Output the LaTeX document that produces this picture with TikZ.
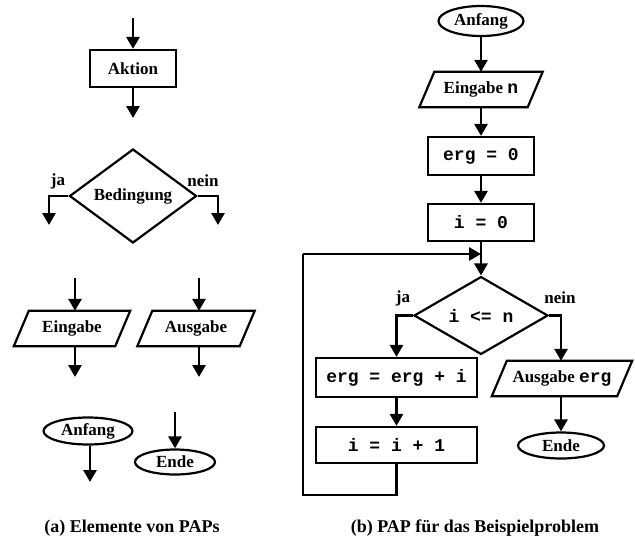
\documentclass[tikz,border=0pt]{standalone}
\usepackage{fontspec}
\setmainfont{Liberation Serif}
\setmonofont{Liberation Mono}
\usetikzlibrary{shapes.geometric,arrows.meta}
\newcommand\ioshape[1]{\draw[shp] ([xshift=-7.5pt]#1.south west) -- ([xshift=7.5pt]#1.north west) -- ([xshift=7.5pt]#1.north east) -- ([xshift=-7.5pt]#1.south east) -- cycle;}
\begin{document}
\begin{tikzpicture}[x=1pt,y=-1pt,
  every node/.style={font=\fontsize{17}{20}\selectfont\bfseries},
  code/.style={font=\fontsize{18}{20}\selectfont\ttfamily\bfseries},
  shp/.style={draw,line width=2.2pt,inner sep=0pt,line join=miter},
  actbox/.style={shp,rectangle,minimum width=#1},
  iobox/.style={inner sep=0pt,rectangle,minimum width=#1,minimum height=35pt},
  termbox/.style={shp,ellipse},
  condbox/.style={shp,diamond},
  arr/.style={line width=2.8pt,-{Triangle[width=13pt,length=12pt]}},
  ln/.style={line width=2.8pt},
  lbl/.style={inner sep=0pt},
  captext/.style={font=\fontsize{18}{20}\selectfont\bfseries}]
\useasboundingbox (0,0) rectangle (635,550);

% ---------- (a) elements ----------
\coordinate (ain) at (133,18);
\node[actbox=86pt,minimum height=37pt] (akt) at (133,68.5) {Aktion};
\coordinate (aout) at (133,118);
\draw[arr] (ain) -- (akt);
\draw[arr] (akt) -- (aout);

\node[condbox,minimum width=127pt,minimum height=90pt] (bed) at (133,196) {Bedingung};
\coordinate (bja) at (49,225);
\coordinate (bnein) at (218,225);
\draw[arr] (bed.west) -| (bja);
\draw[arr] (bed.east) -| (bnein);
\node[lbl] (lja1) at (58,181) {ja};
\node[lbl] (lnein1) at (203,181) {nein};

\node[iobox=101pt] (ein) at (72,328.5) {Eingabe};
\ioshape{ein}
\coordinate (einin) at (75,278);
\coordinate (einout) at (75,377);
\draw[arr] (einin) -- (einin |- ein.north);
\draw[arr] (einout |- ein.south) -- (einout);

\node[iobox=102pt] (aus) at (196,328.5) {Ausgabe};
\ioshape{aus}
\coordinate (ausin) at (199,278);
\coordinate (ausout) at (199,377);
\draw[arr] (ausin) -- (ausin |- aus.north);
\draw[arr] (ausout |- aus.south) -- (ausout);

\node[termbox,minimum width=89pt,minimum height=27pt] (anf1) at (88,431) {Anfang};
\coordinate (anfout) at (90,482);
\draw[arr] (anfout |- anf1.south) -- (anfout);

\node[termbox,minimum width=80pt,minimum height=25pt] (end1) at (175,462) {Ende};
\coordinate (endin) at (175,412);
\draw[arr] (endin) -- (end1);

\node[captext] (capa) at (132,528) {(a) Elemente von PAPs};

% ---------- (b) PAP ----------
\node[termbox,minimum width=85pt,minimum height=30pt] (anf2) at (481,21) {Anfang};
\node[iobox=108pt] (einn) at (481,89.5) {Eingabe {\fontsize{18}{20}\selectfont\ttfamily\bfseries n}};
\ioshape{einn}
\node[actbox=106pt,minimum height=38pt,code] (erg0) at (481,156) {erg = 0};
\node[actbox=106pt,minimum height=37pt,code] (i0) at (481,222.5) {i = 0};
\node[condbox,minimum width=134pt,minimum height=65pt,code] (cond) at (481,315.5) {i <= n};
\node[actbox=161pt,minimum height=39pt,code] (sum) at (396.5,377.5) {erg = erg + i};
\node[actbox=161pt,minimum height=36pt,code] (inc) at (396.5,445) {i = i + 1};
\node[iobox=125pt] (aerg) at (562,378.5) {Ausgabe {\fontsize{18}{20}\selectfont\ttfamily\bfseries erg}};
\ioshape{aerg}
\node[termbox,minimum width=86pt,minimum height=26pt] (end2) at (561,445.5) {Ende};

\draw[arr] (anf2) -- (einn);
\draw[arr] (einn) -- (erg0);
\draw[arr] (erg0) -- (i0);
\draw[arr] (i0) -- (cond);
\draw[arr] (cond.west) -| (sum.north);
\coordinate (nein2) at (561,315.5);
\draw[arr] (cond.east) -| (nein2 |- aerg.north);
\draw[arr] (sum) -- (inc);
\draw[arr] (nein2 |- aerg.south) -- (end2);

\coordinate (lb) at (303,495);
\coordinate (lt) at (303,254);
\draw[ln] (inc.south) |- (lb) -- (lt);
\draw[arr] (lt) -- (lt -| cond.north);

\node[lbl] (lja2) at (403,298) {ja};
\node[lbl] (lnein2) at (560,298) {nein};

\node[captext] (capb) at (475,528) {(b) PAP für das Beispielproblem};
\end{tikzpicture}
\end{document}
